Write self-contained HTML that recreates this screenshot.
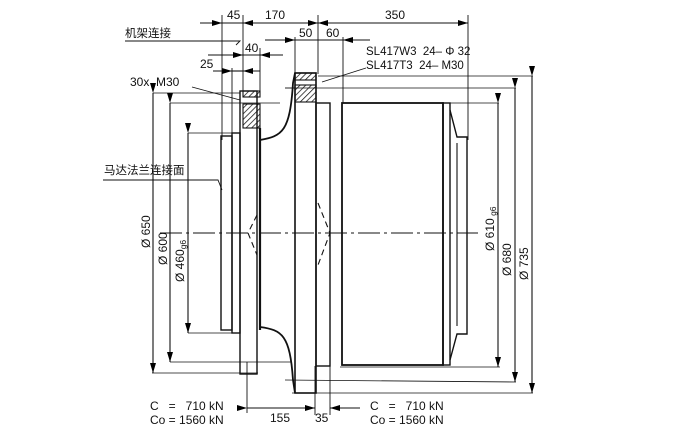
<!DOCTYPE html>
<html><head><meta charset="utf-8"><style>
html,body{margin:0;padding:0;background:#fff;}
svg{display:block;}
text{font-family:"Liberation Sans","Noto Sans CJK SC",sans-serif;fill:#111;}
</style></head><body>
<svg width="677" height="438" viewBox="0 0 677 438" xmlns="http://www.w3.org/2000/svg">
<defs>
<marker id="a" viewBox="0 0 10 6" refX="10" refY="3" markerWidth="11" markerHeight="6" orient="auto" markerUnits="userSpaceOnUse"><path d="M0,0L10,3L0,6z" fill="#000"/></marker>
<pattern id="h" width="4" height="4" patternUnits="userSpaceOnUse" patternTransform="rotate(45)"><line x1="0" y1="0" x2="0" y2="4" stroke="#111" stroke-width="1.5"/></pattern>
</defs>
<g stroke="#111" fill="none" stroke-width="1.1">
<line x1="160" y1="233" x2="478" y2="233" stroke-dasharray="22,4,3,4" stroke-width="0.9"/>
<line x1="153" y1="93" x2="153" y2="373" marker-start="url(#a)" marker-end="url(#a)"/>
<line x1="153" y1="93" x2="240" y2="93" stroke-width="0.8"/>
<line x1="152" y1="373" x2="258" y2="373" stroke-width="0.8"/>
<line x1="170" y1="103" x2="170" y2="362" marker-start="url(#a)" marker-end="url(#a)"/>
<line x1="170" y1="103" x2="280" y2="103" stroke-width="0.8"/>
<line x1="170" y1="362" x2="292" y2="362" stroke-width="0.8"/>
<line x1="188" y1="133" x2="188" y2="333" marker-start="url(#a)" marker-end="url(#a)"/>
<line x1="188" y1="133" x2="233" y2="133" stroke-width="0.8"/>
<line x1="188" y1="333" x2="237" y2="333" stroke-width="0.8"/>
<line x1="498" y1="103" x2="498" y2="367" marker-start="url(#a)" marker-end="url(#a)"/>
<line x1="343" y1="103" x2="499" y2="103" stroke-width="0.8"/>
<line x1="340" y1="367" x2="500" y2="367" stroke-width="0.8"/>
<line x1="515" y1="88" x2="515" y2="382" marker-start="url(#a)" marker-end="url(#a)"/>
<line x1="290" y1="88" x2="516" y2="88" stroke-width="0.8"/>
<line x1="285" y1="380" x2="516" y2="382" stroke-width="0.8"/>
<line x1="532" y1="76" x2="532" y2="393" marker-start="url(#a)" marker-end="url(#a)"/>
<line x1="318" y1="76" x2="533" y2="76" stroke-width="0.8"/>
<line x1="292" y1="393" x2="533" y2="393" stroke-width="0.8"/>
<line x1="200" y1="23" x2="222" y2="23" marker-end="url(#a)"/>
<line x1="222" y1="23" x2="468" y2="23"/>
<line x1="260" y1="23" x2="243" y2="23" marker-end="url(#a)"/>
<line x1="300" y1="23" x2="318" y2="23" marker-end="url(#a)"/>
<line x1="335" y1="23" x2="318" y2="23" marker-end="url(#a)"/>
<line x1="450" y1="23" x2="468" y2="23" marker-end="url(#a)"/>
<line x1="222" y1="15" x2="222" y2="140" stroke-width="0.9"/>
<line x1="243" y1="15" x2="243" y2="92" stroke-width="0.9"/>
<line x1="318" y1="15" x2="318" y2="74" stroke-width="0.9"/>
<line x1="468" y1="15" x2="468" y2="140" stroke-width="0.9"/>
<line x1="265" y1="40" x2="295" y2="40" marker-end="url(#a)"/>
<line x1="295" y1="40" x2="370" y2="40"/>
<line x1="370" y1="40" x2="343" y2="40" marker-end="url(#a)"/>
<line x1="295" y1="37" x2="295" y2="74" stroke-width="0.9"/>
<line x1="343" y1="37" x2="343" y2="103" stroke-width="0.9"/>
<line x1="208" y1="55" x2="243" y2="55" marker-end="url(#a)"/>
<line x1="243" y1="55" x2="260" y2="55"/>
<line x1="283" y1="55" x2="260" y2="55" marker-end="url(#a)"/>
<line x1="260" y1="48" x2="260" y2="92" stroke-width="0.9"/>
<line x1="213" y1="71" x2="232" y2="71" marker-end="url(#a)"/>
<line x1="232" y1="71" x2="243" y2="71"/>
<line x1="260" y1="71" x2="243" y2="71" marker-end="url(#a)"/>
<line x1="232" y1="68" x2="232" y2="136" stroke-width="0.9"/>
<polyline points="125,41 240,41 236,45" stroke-width="0.9"/>
<line x1="192" y1="87" x2="240" y2="100" stroke-width="0.9"/>
<line x1="366" y1="68" x2="322" y2="82" stroke-width="0.9"/>
<polyline points="103,180 218,180 222,190" stroke-width="0.9"/>
<rect x="221" y="136" width="11" height="194" stroke-width="1.4"/>
<rect x="232" y="133" width="8" height="200" stroke-width="1.4"/>
<rect x="240" y="91" width="17" height="283" stroke-width="1.4"/>
<rect x="243" y="91" width="17" height="6" fill="url(#h)"/>
<rect x="243" y="104" width="17" height="24" fill="url(#h)"/>
<path d="M260,140 C282,136 290,132 293,83 L295,73" stroke-width="1.8"/>
<path d="M260,327 C282,330 290,335 293,380 L295,393" stroke-width="1.8"/>
<line x1="260" y1="128" x2="260" y2="330" stroke-width="2.2"/>
<rect x="295" y="73" width="21" height="320" stroke-width="1.6"/>
<rect x="295" y="73" width="21" height="7" fill="url(#h)"/>
<rect x="295" y="85" width="21" height="17" fill="url(#h)"/>
<line x1="285" y1="88" x2="295" y2="88" stroke-width="0.9"/>
<rect x="316" y="103" width="14" height="263" stroke-width="1.4"/>
<rect x="342" y="103" width="101" height="262" stroke-width="1.8"/>
<rect x="443" y="103" width="7" height="262" stroke-width="1.4"/>
<path d="M450,110 L457,137 L467,137 L467,334 L457,334 L450,360" stroke-width="1.4"/>
<line x1="457" y1="143" x2="457" y2="326" stroke-width="1.1"/>
<polyline points="257,215 248,233 257,255" stroke-dasharray="6,4"/>
<polyline points="318,203 330,233 318,265" stroke-dasharray="6,4"/>
<line x1="247" y1="362" x2="247" y2="413" stroke-width="0.9"/>
<line x1="315" y1="366" x2="315" y2="415" stroke-width="0.9"/>
<line x1="330" y1="366" x2="330" y2="415" stroke-width="0.9"/>
<line x1="247" y1="408" x2="315" y2="408" marker-start="url(#a)" marker-end="url(#a)"/>
<line x1="360" y1="408" x2="330" y2="408" marker-end="url(#a)"/>
</g>
<g font-size="12">
<text x="227" y="19">45</text>
<text x="265" y="19">170</text>
<text x="385" y="19">350</text>
<text x="299" y="37">50</text>
<text x="326" y="37">60</text>
<text x="245" y="52">40</text>
<text x="200" y="68">25</text>
<text x="125" y="37" font-size="11.5">机架连接</text>
<text x="130" y="86">30x&#160;&#160;M30</text>
<text x="366" y="55" font-size="11.5">SL417W3&#160;&#160;24– Φ 32</text>
<text x="366" y="69" font-size="11.5">SL417T3&#160;&#160;24– M30</text>
<text x="104" y="174" font-size="11.5">马达法兰连接面</text>
<text x="150" y="410">C&#160;&#160;&#160;=&#160;&#160;&#160;710 kN</text>
<text x="150" y="424">Co = 1560 kN</text>
<text x="370" y="410">C&#160;&#160;&#160;=&#160;&#160;&#160;710 kN</text>
<text x="370" y="424">Co = 1560 kN</text>
<text x="270" y="422">155</text>
<text x="315" y="422">35</text>
<text transform="translate(150,248) rotate(-90)">Ø 650</text>
<text transform="translate(167,265) rotate(-90)">Ø 600</text>
<text transform="translate(184,282) rotate(-90)">Ø 460<tspan font-size="8.5" dy="2">g6</tspan></text>
<text transform="translate(494,251) rotate(-90)">Ø 610<tspan font-size="8.5" dy="2"> g6</tspan></text>
<text transform="translate(511,276) rotate(-90)">Ø 680</text>
<text transform="translate(528,280) rotate(-90)">Ø 735</text>
</g>
</svg>
</body></html>
